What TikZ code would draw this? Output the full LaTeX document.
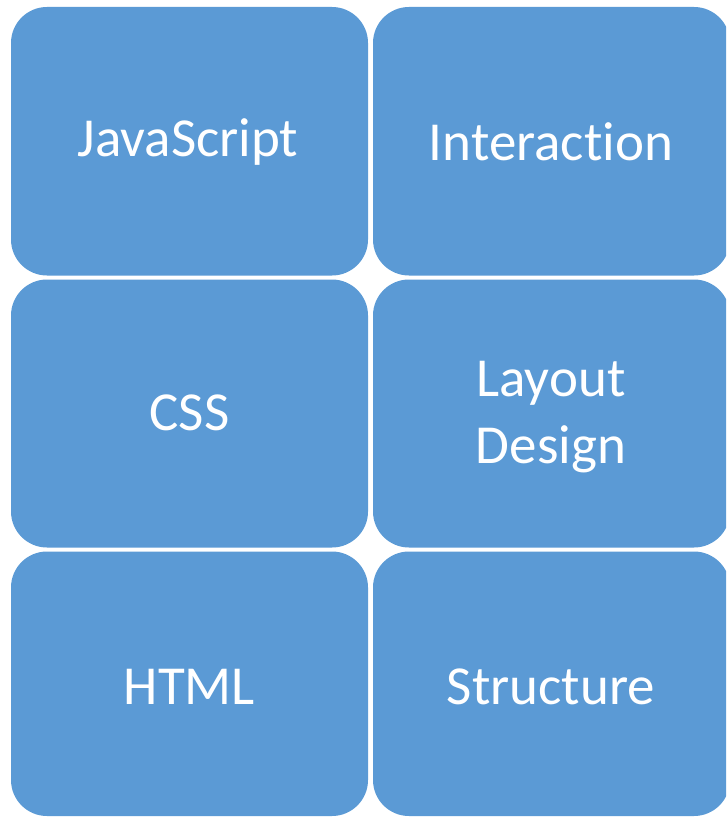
\documentclass[tikz,border=0pt]{standalone}
\usepackage{fontspec}
\setmainfont[Ligatures=NoCommon]{Carlito}
\definecolor{boxblue}{HTML}{5B9AD5}
\begin{document}
\begin{tikzpicture}[x=1pt,y=-1pt,
  cell/.style={fill=boxblue,draw=none,rounded corners=36pt},
  lbl/.style={text=white,font=\fontsize{55}{67}\selectfont,align=center,anchor=center,inner sep=0pt}]
\useasboundingbox (0,0) rectangle (726,818);
\begin{scope}
\clip (0,0) rectangle (726,818);
\fill[cell] (11,7) rectangle (368,275.5);
\fill[cell] (373,7) rectangle (730,275.5);
\fill[cell] (11,279.5) rectangle (368,547.5);
\fill[cell] (373,279.5) rectangle (730,547.5);
\fill[cell] (11,551.5) rectangle (368,816);
\fill[cell] (373,551.5) rectangle (730,816);
\end{scope}
\node[lbl] (js) at (188,142) {JavaScript};
\node[lbl] (int) at (551,142) {Interaction};
\node[lbl] (css) at (189.5,413) {CSS};
\node[lbl] (lay) at (551,417) {Layout\\Design};
\node[lbl] (html) at (189.5,687) {HTML};
\node[lbl] (str) at (551,687) {Structure};
\end{tikzpicture}
\end{document}
